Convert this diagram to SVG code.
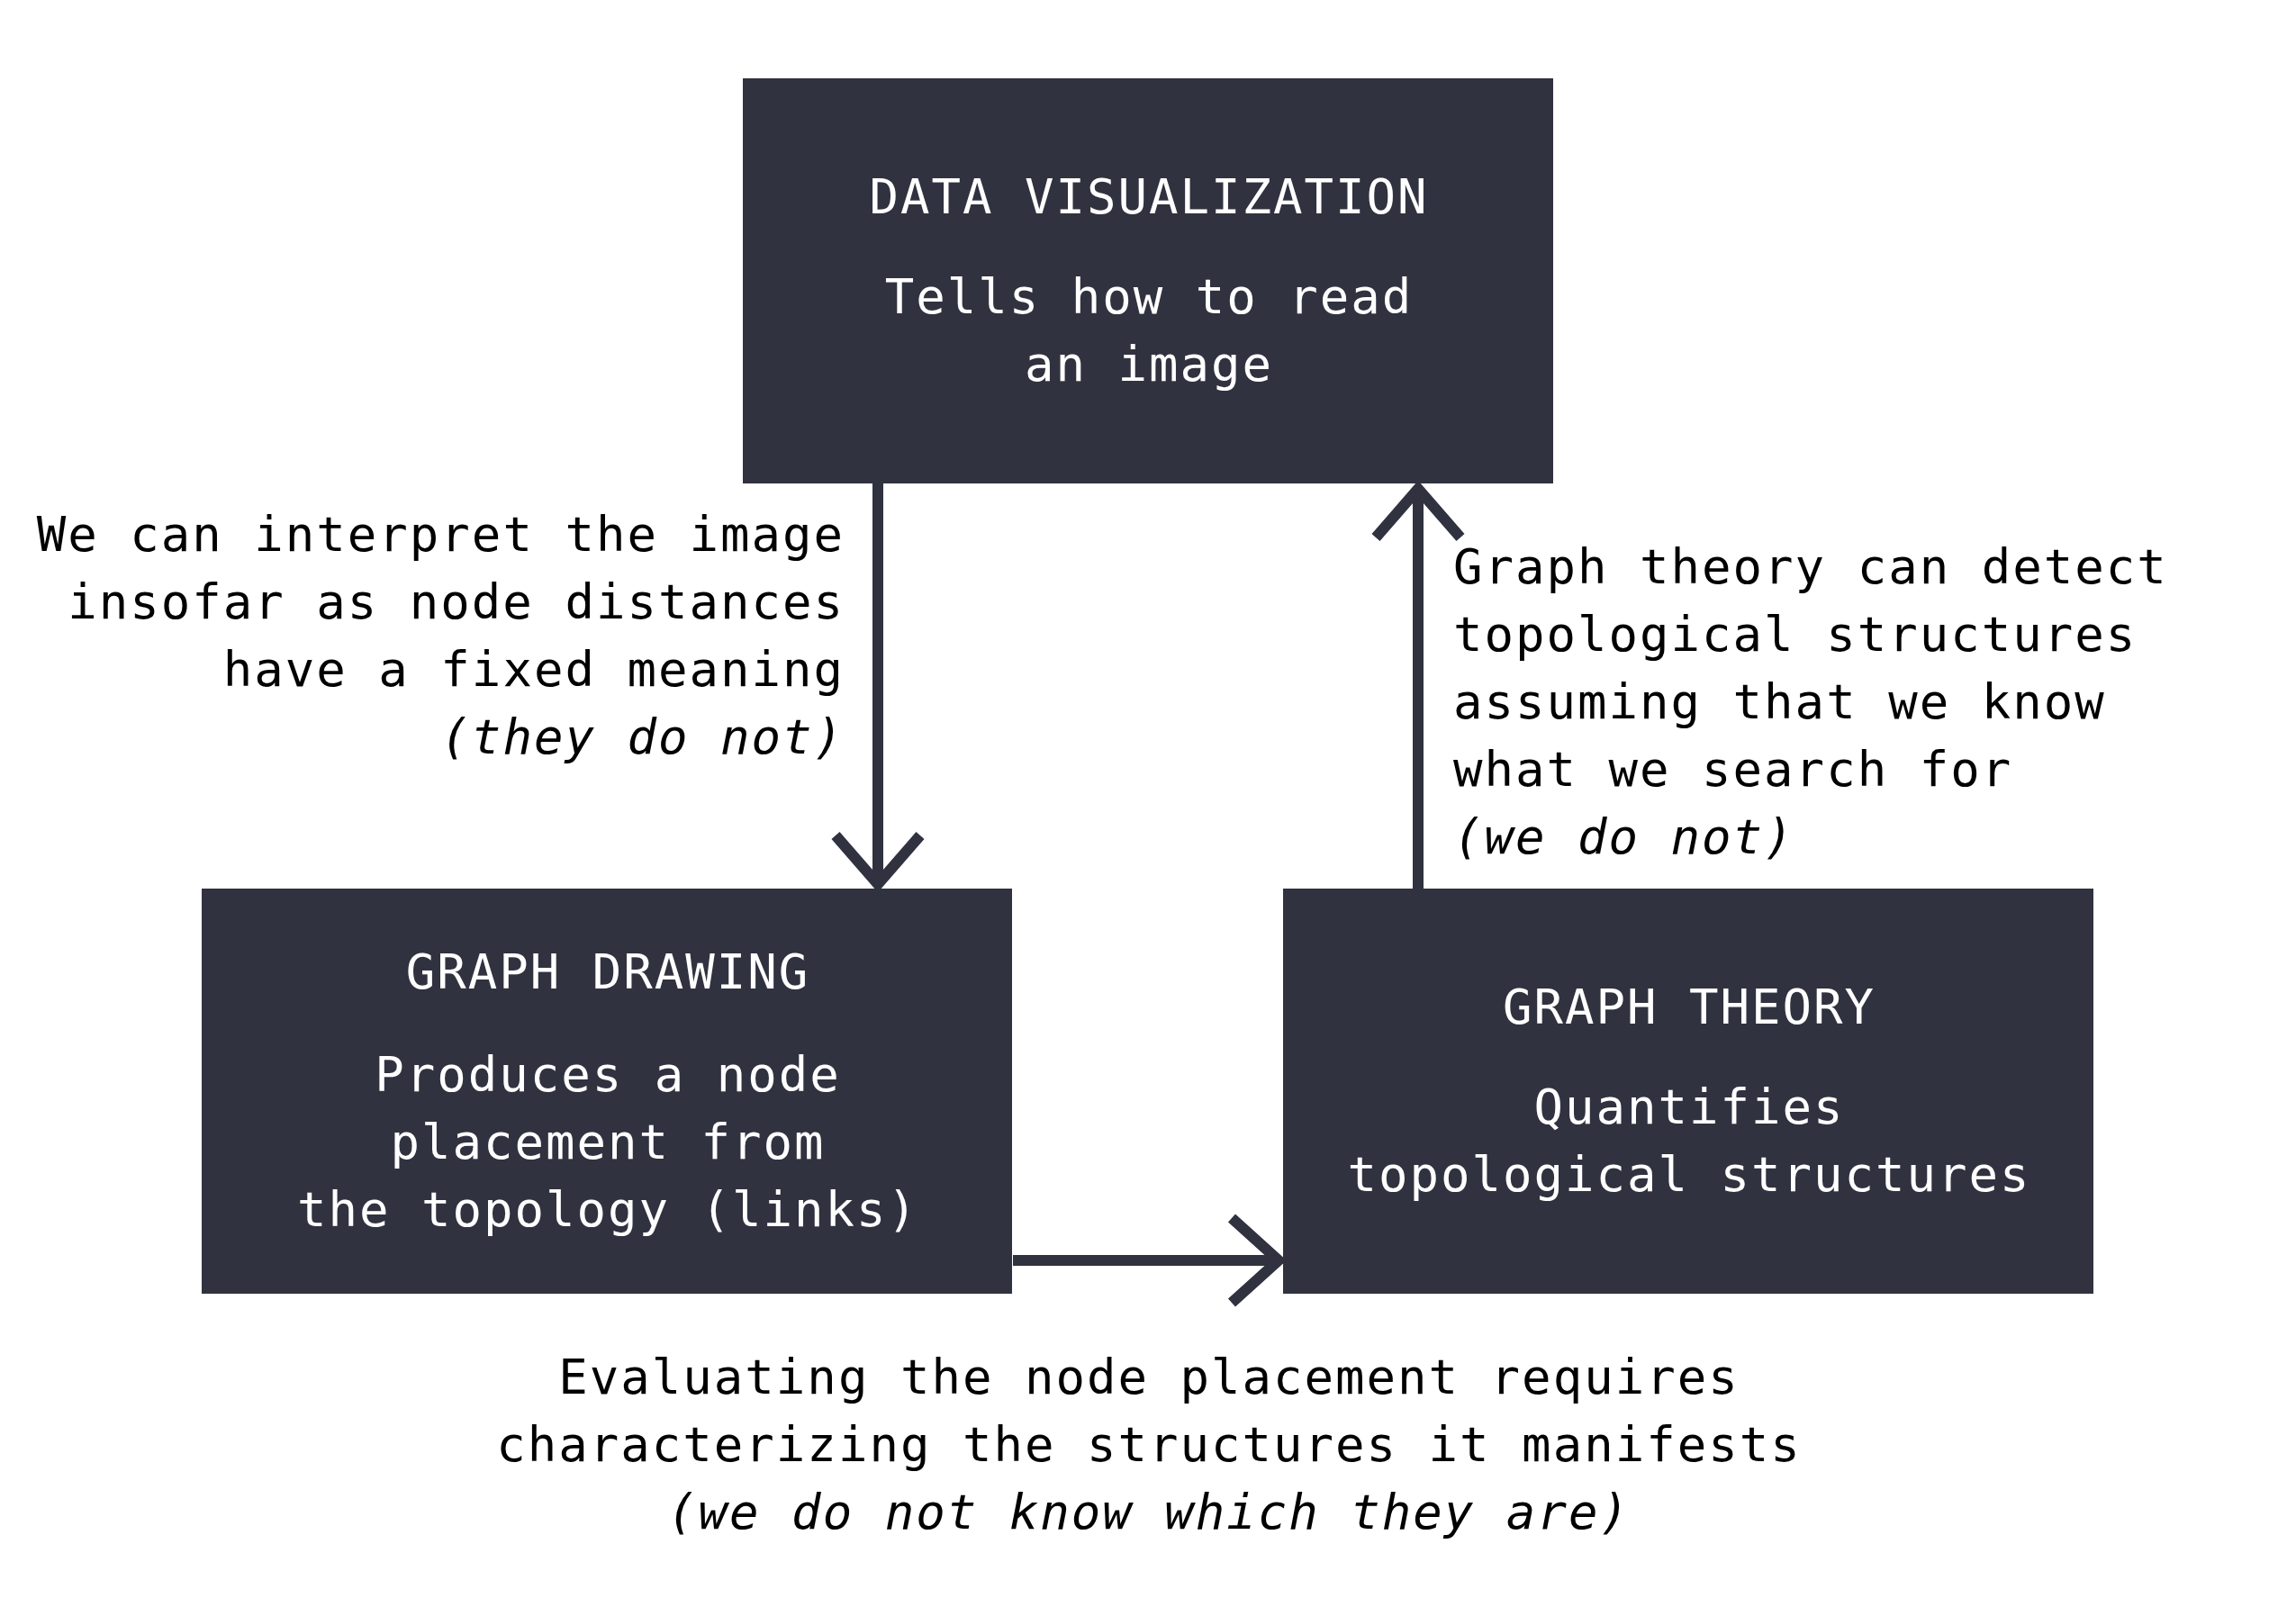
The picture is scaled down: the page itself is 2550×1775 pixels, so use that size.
<svg xmlns="http://www.w3.org/2000/svg" width="2550" height="1775" viewBox="0 0 2550 1775">
<style>
.box{fill:#313240}
.t{font-family:"DejaVu Sans Mono","Liberation Mono",monospace;font-size:54px;letter-spacing:2px}
.w{fill:#ffffff;text-anchor:middle}
.k{fill:#000000}
.i{font-style:italic}
.c{stroke:#313240;stroke-width:12;fill:none;stroke-linejoin:miter}
</style>
<rect width="2550" height="1775" fill="#ffffff"/>
<g id="connectors">
<g id="e-dataviz-drawing">
<line class="c" x1="975" y1="537" x2="975" y2="980"/>
<polyline class="c" points="928,928 975,982 1022,928"/>
</g>
<g id="e-theory-dataviz">
<line class="c" x1="1575" y1="987" x2="1575" y2="545"/>
<polyline class="c" points="1528,597 1575,543 1622,597"/>
</g>
<g id="e-drawing-theory">
<line class="c" x1="1125" y1="1400" x2="1418" y2="1400"/>
<polyline class="c" points="1368,1353 1420,1400 1368,1447"/>
</g>
</g>
<g id="node-dataviz">
<rect class="box" x="825" y="87" width="900" height="450"/>
<text class="t w" x="1276" y="237">DATA VISUALIZATION</text>
<text class="t w" x="1276" y="348">Tells how to read</text>
<text class="t w" x="1276" y="423">an image</text>
</g>
<g id="node-drawing">
<rect class="box" x="224" y="987" width="900" height="450"/>
<text class="t w" x="675" y="1098">GRAPH DRAWING</text>
<text class="t w" x="675" y="1212">Produces a node</text>
<text class="t w" x="675" y="1287">placement from</text>
<text class="t w" x="675" y="1362">the topology (links)</text>
</g>
<g id="node-theory">
<rect class="box" x="1425" y="987" width="900" height="450"/>
<text class="t w" x="1876" y="1137">GRAPH THEORY</text>
<text class="t w" x="1876" y="1248">Quantifies</text>
<text class="t w" x="1876" y="1323">topological structures</text>
</g>
<g id="label-left" class="t k" text-anchor="end">
<text x="938" y="612">We can interpret the image</text>
<text x="938" y="687">insofar as node distances</text>
<text x="938" y="762">have a fixed meaning</text>
<text class="i" x="938" y="837">(they do not)</text>
</g>
<g id="label-right" class="t k">
<text x="1614" y="648">Graph theory can detect</text>
<text x="1614" y="723">topological structures</text>
<text x="1614" y="798">assuming that we know</text>
<text x="1614" y="873">what we search for</text>
<text class="i" x="1614" y="948">(we do not)</text>
</g>
<g id="label-bottom" class="t k" text-anchor="middle">
<text x="1276" y="1548">Evaluating the node placement requires</text>
<text x="1276" y="1623">characterizing the structures it manifests</text>
<text class="i" x="1276" y="1698">(we do not know which they are)</text>
</g>
</svg>
